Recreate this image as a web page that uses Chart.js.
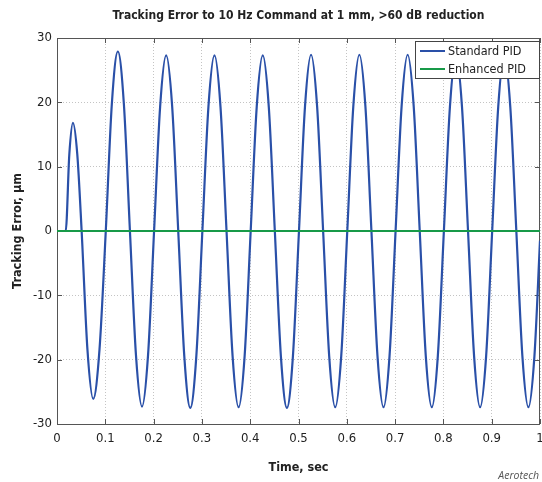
<!DOCTYPE html>
<html>
<head>
<meta charset="utf-8">
<script src="https://cdn.jsdelivr.net/npm/chart.js@4.4.0/dist/chart.umd.min.js"></script>
<style>
  body { margin: 0; background: #fff; }
  #wrap { position: relative; width: 542px; height: 482px; }
</style>
</head>
<body>
<div id="wrap"><canvas id="errChart" width="542" height="482"></canvas></div>
<script>
// Values (time in s, error in µm)
const timeSec = [
  0, 0.018, 0.0255, 0.033, 0.042, 0.051, 0.063, 0.075, 0.088,
  0.101, 0.1135, 0.126, 0.1385, 0.151, 0.1635, 0.176, 0.1885,
  0.201, 0.2135, 0.226, 0.2385, 0.251, 0.2635, 0.276, 0.2885,
  0.301, 0.3135, 0.326, 0.3385, 0.351, 0.3635, 0.376, 0.3885,
  0.401, 0.4135, 0.426, 0.4385, 0.451, 0.4635, 0.476, 0.4885,
  0.501, 0.5135, 0.526, 0.5385, 0.551, 0.5635, 0.576, 0.5885,
  0.601, 0.6135, 0.626, 0.6385, 0.651, 0.6635, 0.676, 0.6885,
  0.701, 0.7135, 0.726, 0.7385, 0.751, 0.7635, 0.776, 0.7885,
  0.801, 0.8135, 0.826, 0.8385, 0.851, 0.8635, 0.876, 0.8885,
  0.901, 0.9135, 0.926, 0.9385, 0.951, 0.9635, 0.976, 0.9885,
  1.0
];
const standardPid = [
  0, 0, 11.9, 16.8, 11.9, 0, -18.4, -26.1, -18.4,
  0, 19.7, 27.9, 19.7, 0, -19.3, -27.3, -19.3,
  0, 19.3, 27.3, 19.3, 0, -19.4, -27.5, -19.4,
  0, 19.3, 27.3, 19.3, 0, -19.4, -27.4, -19.4,
  0, 19.3, 27.3, 19.3, 0, -19.4, -27.5, -19.4,
  0, 19.4, 27.4, 19.4, 0, -19.4, -27.4, -19.4,
  0, 19.4, 27.4, 19.4, 0, -19.4, -27.4, -19.4,
  0, 19.4, 27.4, 19.4, 0, -19.4, -27.4, -19.4,
  0, 19.3, 27.3, 19.3, 0, -19.4, -27.4, -19.4,
  0, 19.3, 27.3, 19.3, 0, -19.4, -27.4, -19.4,
  -1.5
];
const enhancedTime = [0, 0.1, 0.2, 0.3, 0.4, 0.5, 0.6, 0.7, 0.8, 0.9, 1.0];
const enhancedPid  = [0, 0, 0, 0, 0, 0, 0, 0, 0, 0, 0];

const xTicks = [0, 0.1, 0.2, 0.3, 0.4, 0.5, 0.6, 0.7, 0.8, 0.9, 1];
const yTicks = [-30, -20, -10, 0, 10, 20, 30];

const FONT = '"DejaVu Sans Condensed", "Liberation Sans Narrow", Arial, sans-serif';

// MATLAB style box with inward ticks
const axesBox = {
  id: 'axesBox',
  beforeDatasetsDraw(chart) {
    const { ctx, chartArea: a, scales } = chart;
    ctx.save();
    ctx.strokeStyle = '#555';
    ctx.lineWidth = 1;
    ctx.strokeRect(Math.round(a.left) + 0.5, Math.round(a.top) + 0.5,
      Math.round(a.right - a.left) - 1, Math.round(a.bottom - a.top));
    ctx.beginPath();
    xTicks.forEach(v => {
      const px = Math.round(scales.x.getPixelForValue(v)) + 0.5;
      ctx.moveTo(px, a.bottom); ctx.lineTo(px, a.bottom - 5);
      ctx.moveTo(px, a.top); ctx.lineTo(px, a.top + 5);
    });
    yTicks.forEach(v => {
      const py = Math.round(scales.y.getPixelForValue(v)) + 0.5;
      ctx.moveTo(a.left, py); ctx.lineTo(a.left + 5, py);
      ctx.moveTo(a.right, py); ctx.lineTo(a.right - 5, py);
    });
    ctx.stroke();
    ctx.restore();
  }
};

const legendBox = {
  id: 'legendBox',
  afterDatasetsDraw(chart) {
    const { ctx, chartArea: a } = chart;
    const x = Math.round(a.right) - 125, y = Math.round(a.top) + 3, w = 124, h = 37;
    ctx.save();
    ctx.fillStyle = '#fff';
    ctx.fillRect(x, y, w, h);
    ctx.strokeStyle = '#444';
    ctx.lineWidth = 1;
    ctx.strokeRect(x + 0.5, y + 0.5, w, h);
    chart.data.datasets.forEach((ds, i) => {
      const ly = y + 10 + i * 18;
      ctx.strokeStyle = ds.borderColor;
      ctx.lineWidth = 2;
      ctx.beginPath();
      ctx.moveTo(x + 5, ly);
      ctx.lineTo(x + 30, ly);
      ctx.stroke();
      ctx.fillStyle = '#222';
      ctx.font = '12.5px ' + FONT;
      ctx.textBaseline = 'middle';
      ctx.fillText(ds.label, x + 33, ly + 1);
    });
    // credit
    ctx.fillStyle = '#555';
    ctx.font = 'italic 10.5px "Open Sans", sans-serif';
    ctx.textBaseline = 'alphabetic';
    ctx.textAlign = 'right';
    ctx.fillText('Aerotech', 539, 479);
    ctx.restore();
  }
};

const ctx = document.getElementById('errChart').getContext('2d');
new Chart(ctx, {
  type: 'line',
  data: {
    datasets: [{
      label: 'Standard PID',
      data: timeSec.map((t, i) => ({ x: t, y: standardPid[i] })),
      borderColor: '#2a50a8',
      borderWidth: 2.2,
      pointRadius: 0,
      cubicInterpolationMode: 'monotone',
      order: 2
    }, {
      label: 'Enhanced PID',
      data: enhancedTime.map((t, i) => ({ x: t, y: enhancedPid[i] })),
      borderColor: '#189a48',
      borderWidth: 2.2,
      pointRadius: 0,
      order: 1
    }]
  },
  options: {
    responsive: false,
    animation: false,
    layout: { padding: { top: 0, right: 2, left: 0, bottom: 0 } },
    plugins: {
      legend: { display: false },
      tooltip: { enabled: false },
      title: {
        display: true,
        fullSize: false,
        text: 'Tracking Error to 10 Hz Command at 1 mm, >60 dB reduction',
        color: '#222',
        font: { family: FONT, size: 12, weight: 'bold' },
        padding: { top: 9, bottom: 14.6 }
      }
    },
    scales: {
      x: {
        type: 'linear',
        min: 0, max: 1,
        afterBuildTicks: s => { s.ticks = xTicks.map(v => ({ value: v })); },
        afterFit: s => { s.height = 58; s.paddingLeft = 0; s.paddingRight = 0; },
        ticks: {
          color: '#222', padding: 7, maxRotation: 0,
          font: { family: FONT, size: 13 },
          callback: v => String(v)
        },
        grid: { color: '#c4c4c4', drawTicks: false },
        border: { display: false, dash: [1, 2] },
        title: {
          display: true, text: 'Time, sec', color: '#222',
          font: { family: FONT, size: 12.5, weight: 'bold' },
          padding: { top: 0, bottom: 6.5 }
        }
      },
      y: {
        min: -30, max: 30,
        afterBuildTicks: s => { s.ticks = yTicks.map(v => ({ value: v })); },
        afterFit: s => { s.width = 57; },
        ticks: {
          color: '#222', padding: 5,
          font: { family: FONT, size: 13 }
        },
        grid: { color: '#c4c4c4', drawTicks: false },
        border: { display: false, dash: [1, 2] },
        title: {
          display: true, text: 'Tracking Error, µm', color: '#222',
          font: { family: FONT, size: 12.5, weight: 'bold' },
          padding: { top: 10, bottom: 0 }
        }
      }
    }
  },
  plugins: [axesBox, legendBox]
});
</script>
</body>
</html>
